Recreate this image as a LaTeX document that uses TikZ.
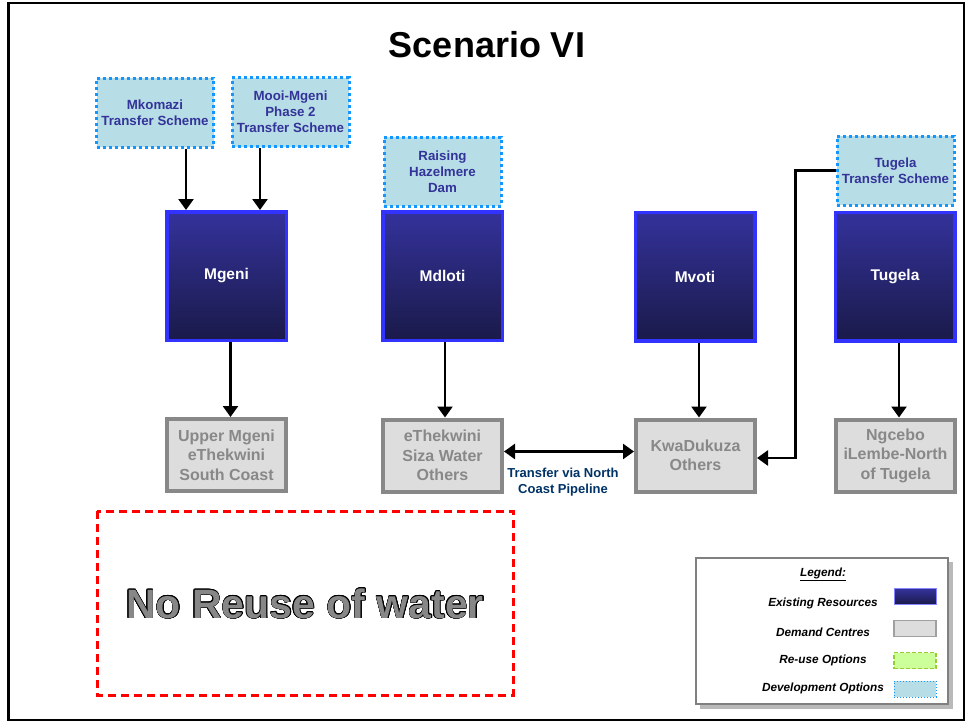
\documentclass[tikz,border=0pt]{standalone}
\usepackage{fontspec}
\setmainfont{Liberation Sans}
\usepackage[copies]{contour}
\usetikzlibrary{arrows.meta}
\definecolor{devfill}{RGB}{183,222,230}
\definecolor{devborder}{RGB}{20,150,255}
\definecolor{devtext}{RGB}{51,51,153}
\definecolor{restop}{RGB}{52,50,155}
\definecolor{resbot}{RGB}{26,26,74}
\definecolor{resborder}{RGB}{51,51,255}
\definecolor{demfill}{RGB}{221,221,221}
\definecolor{dembord}{RGB}{136,136,136}
\definecolor{demtext}{RGB}{136,136,136}
\definecolor{pipetext}{RGB}{0,51,102}
\definecolor{reusefill}{RGB}{204,255,153}
\definecolor{reusebord}{RGB}{153,204,51}
\tikzset{
  devbox/.style={draw=devborder, line width=3pt, dash pattern=on 3pt off 3pt, fill=devfill, text=devtext,
    font=\bfseries\fontsize{13.3}{16}\selectfont, align=center, inner sep=1pt,
    minimum width=117pt, minimum height=69pt},
  resbox/.style={draw=resborder, line width=3.5pt, top color=restop, bottom color=resbot, text=white,
    font=\bfseries\fontsize{15.5}{18}\selectfont, align=center, minimum width=119.5pt, minimum height=128.5pt},
  dembox/.style={draw=dembord, line width=4pt, fill=demfill, text=demtext,
    font=\bfseries\fontsize{16}{19.5}\selectfont, align=center, inner sep=1pt,
    minimum width=119pt, minimum height=72pt},
  arr/.style={-{Triangle[length=11pt,width=15pt]}, line width=2.5pt, black},
  dblarr/.style={{Triangle[length=11pt,width=15pt]}-{Triangle[length=11pt,width=15pt]}, line width=2.5pt, black},
  legtext/.style={font=\bfseries\itshape\fontsize{11.8}{14}\selectfont, text=black, anchor=center},
  swatch/.style={minimum width=42pt, minimum height=16pt, inner sep=0pt},
}
\begin{document}
\begin{tikzpicture}[x=1pt,y=-1pt]
\useasboundingbox (0,0) rectangle (969,723);
\fill[white] (0,0) rectangle (969,723);
% frame
\draw[line width=2.5pt, black] (8.5,3) rectangle (964,720);
% title
\node[font=\bfseries\fontsize{36}{40}\selectfont] (title) at (487,45) {Scenario VI};
% development options
\node[devbox] (mko) at (155,112.5) {Mkomazi\\Transfer Scheme};
\node[devbox] (mooi) at (290.5,112) {Mooi-Mgeni\\Phase 2\\Transfer Scheme};
\node[devbox] (haz) at (442.5,171.5) {Raising\\Hazelmere\\Dam};
\node[devbox] (tts) at (895.5,170.5) {Tugela\\Transfer Scheme};
% resources
\node[resbox] (mgeni) at (226.5,276) {Mgeni};
\node[resbox] (mdloti) at (442.5,276) {Mdloti};
\node[resbox] (mvoti) at (695,276.5) {Mvoti};
\node[resbox] (tugela) at (895,276.5) {Tugela};
% demand centres
\node[dembox] (upper) at (226.5,455) {Upper Mgeni\\eThekwini\\South Coast};
\node[dembox] (eth) at (442.5,455.5) {eThekwini\\Siza Water\\Others};
\node[dembox] (kwa) at (695.5,455.5) {KwaDukuza\\Others};
\node[dembox] (ngc) at (895.5,455.5) {Ngcebo\\iLembe-North\\of Tugela};
% arrows
\draw[arr] ([xshift=31pt]mko.south) -- ([xshift=31pt]mko.south |- mgeni.north);
\draw[arr] ([xshift=-30.5pt]mooi.south) -- ([xshift=-30.5pt]mooi.south |- mgeni.north);
\draw[arr] ([xshift=4pt]mgeni.south) -- ([xshift=4pt]upper.north);
\draw[arr] ([xshift=2.5pt]mdloti.south) -- ([xshift=2.5pt]eth.north);
\draw[arr] ([xshift=4pt]mvoti.south) -- ([xshift=4pt]mvoti.south |- kwa.north);
\draw[arr] ([xshift=4pt]tugela.south) -- ([xshift=4pt]tugela.south |- ngc.north);
\draw[dblarr] ([yshift=4pt]eth.east) -- ([yshift=4pt]kwa.west);
\draw[arr] (tts.west) -- ++(-40,0) |- ([yshift=-2.5pt]kwa.east);
\node[font=\bfseries\fontsize{13}{16.5}\selectfont, text=pipetext, align=center] (pipe) at (563,482) {Transfer via North\\Coast Pipeline};
% no reuse box
\draw[red, line width=3pt, dash pattern=on 8pt off 5pt] (97,511) rectangle (513,695);
\contourlength{0.6pt}
\node[font=\bfseries\fontsize{41}{45}\selectfont] (noreuse) at (305,604) {\contour{black}{\textcolor[RGB]{135,135,135}{No Reuse of water}}};
% legend
\fill[gray!55] (700,562) rectangle (953,709);
\node[draw=gray, line width=2pt, fill=white, minimum width=252pt, minimum height=146pt] (legend) at (822,631) {};
\node[legtext] (legtitle) at (823,574) {\underline{Legend:}};
\node[legtext] (l1) at (823,603) {Existing Resources};
\node[legtext] (l2) at (823,632) {Demand Centres};
\node[legtext] (l3) at (823,660) {Re-use Options};
\node[legtext] (l4) at (823,688.5) {Development Options};
\node[swatch, draw=resborder!60, line width=1pt, top color=restop, bottom color=resbot] (s1) at (915,596.5) {};
\node[swatch, draw=dembord!80, line width=1.5pt, fill=demfill] (s2) at (915,628.5) {};
\node[swatch, draw=reusebord, line width=1.5pt, dash pattern=on 4pt off 2pt, fill=reusefill] (s3) at (915,660.5) {};
\node[swatch, draw=devborder, line width=1pt, dotted, fill=devfill] (s4) at (915,689) {};
\end{tikzpicture}
\end{document}
